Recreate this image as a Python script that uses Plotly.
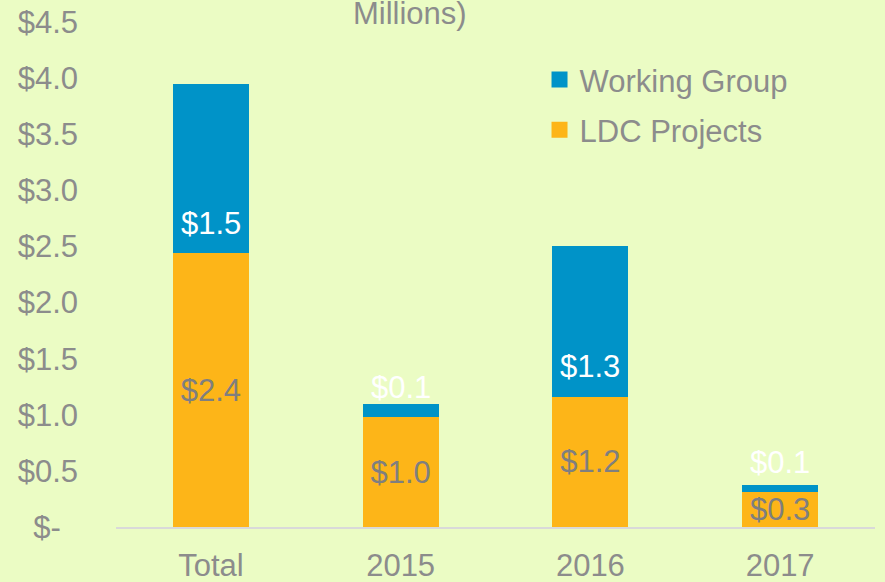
import plotly.graph_objects as go

categories = ["Total", "2015", "2016", "2017"]
ldc_projects = [2.44, 0.98, 1.16, 0.31]
working_group = [1.51, 0.12, 1.34, 0.06]
tick_vals = [0, 0.5, 1.0, 1.5, 2.0, 2.5, 3.0, 3.5, 4.0, 4.5]
tick_text = ["$-\u00a0\u00a0", "$0.5", "$1.0", "$1.5", "$2.0", "$2.5", "$3.0", "$3.5", "$4.0", "$4.5"]

BG = "#EBFCC4"
BLUE = "#0093C8"
ORANGE = "#FDB518"
GRAY = "#8C8C8C"
FONT = "Liberation Sans, Arial, sans-serif"

def money(v):
    return "${:.1f}".format(v)

xpos = list(range(len(categories)))

fig = go.Figure()
fig.add_trace(go.Bar(
    x=xpos, y=ldc_projects, name="LDC Projects",
    marker=dict(color=ORANGE, line=dict(width=0)),
    text=[money(v) for v in ldc_projects],
    textposition="inside", insidetextanchor="middle", constraintext="none",
    textfont=dict(color="#7F7F7F", size=31, family=FONT),
    hoverinfo="skip", showlegend=False,
))
fig.add_trace(go.Bar(
    x=xpos, y=working_group, name="Working Group",
    marker=dict(color=BLUE, line=dict(width=0)),
    hoverinfo="skip", showlegend=False,
))
# legend entries (square swatches)
fig.add_trace(go.Scatter(x=[None], y=[None], mode="markers", name="Working Group",
                         legendgroup="wg",
                         marker=dict(symbol="square", size=16, color=BLUE)))
fig.add_trace(go.Scatter(x=[None], y=[None], mode="markers", name="LDC Projects",
                         legendgroup="ldc",
                         marker=dict(symbol="square", size=16, color=ORANGE)))

for xp, base, v in zip(xpos, ldc_projects, working_group):
    fig.add_annotation(x=xp, y=base, yshift=30, text=money(v), showarrow=False,
                       font=dict(color="white", size=31, family=FONT),
                       xanchor="center", yanchor="middle")

fig.add_annotation(xref="paper", yref="paper", x=0.387, y=1.017, text="Millions)",
                   showarrow=False, xanchor="center", yanchor="middle",
                   font=dict(color=GRAY, size=31, family=FONT))

fig.update_layout(
    width=885, height=582,
    barmode="stack", bargap=0.6,
    paper_bgcolor=BG, plot_bgcolor=BG,
    margin=dict(l=116, r=10, t=21.5, b=55),
    font=dict(family=FONT, color=GRAY, size=31),
    showlegend=True,
    legend=dict(x=0.558, y=0.939, xanchor="left", yanchor="top",
                traceorder="grouped", bgcolor="rgba(0,0,0,0)",
                font=dict(size=31, color=GRAY, family=FONT),
                itemwidth=30, tracegroupgap=7),
)
fig.update_xaxes(range=[-0.5, len(categories) - 0.5], tickvals=xpos, ticktext=categories,
                 showline=True, linecolor="#D9D9D9", linewidth=2, ticks="",
                 showgrid=False, zeroline=False, automargin=False,
                 tickfont=dict(size=31, color=GRAY), ticklabelstandoff=10)
fig.update_yaxes(range=[0, 4.5], tickvals=tick_vals, ticktext=tick_text,
                 showgrid=False, zeroline=False, showline=False, ticks="",
                 automargin=False,
                 tickfont=dict(size=31, color=GRAY), ticklabelstandoff=37)

fig.write_html("out.html", config={"displayModeBar": False},
               post_script="document.body.style.margin='0';document.body.style.overflow='hidden';")
